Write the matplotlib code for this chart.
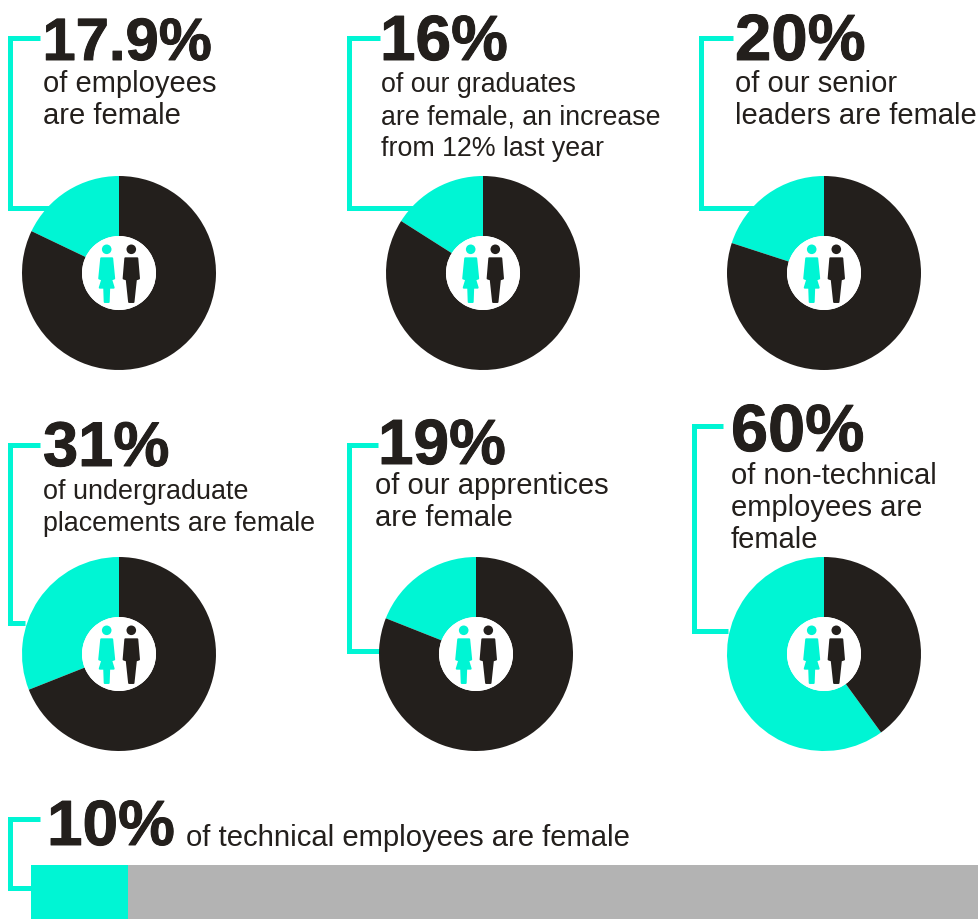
import matplotlib
matplotlib.use("Agg")
import matplotlib.pyplot as plt
import matplotlib.patheffects as pe
from matplotlib.patches import Circle, Polygon

# Share of women per group
headline_values = [17.9, 16, 20, 31, 19, 60]
headline_text = [
    ["of employees", "are female"],
    ["of our graduates", "are female, an increase", "from 12% last year"],
    ["of our senior", "leaders are female"],
    ["of undergraduate", "placements are female"],
    ["of our apprentices", "are female"],
    ["of non-technical", "employees are", "female"],
]
technical_value = 10
technical_text = "of technical employees are female"

TEAL = "#00f5d4"
DARK = "#231f1c"
GREY = "#b3b3b3"
W, H = 979, 919

# Layout, everything in pixels from the top left
centers = [(119, 273), (483, 273), (824, 273), (119, 654), (476, 654), (824, 654)]
num_pos = [(42.5, 60), (380, 60), (735, 60), (43, 466), (378, 464), (731, 451)]
num_size = [43, 46, 47, 45.5, 46, 48]
line_pos = [(43, 92), (381, 92), (735, 92), (43, 499), (375, 494), (731, 484)]
line_size = [21, 19.3, 21, 19.4, 21, 21]
brackets = [
    (40, 10, 38, 208, 50),
    (380, 349, 38, 208, 415),
    (733, 701, 38, 208, 755),
    (40, 10, 445, 623, 25),
    (378, 349, 445, 651, 382),
    (723, 694, 426, 631, 728),
]

fig = plt.figure(figsize=(W / 100, H / 100), dpi=100)
ax = fig.add_axes([0, 0, 1, 1])


def flip(y):
    return H - y


def big_number(x, y, label, size):
    t = ax.text(x, flip(y), label, family="Liberation Sans", weight="bold", fontsize=size,
                color=DARK, va="baseline", ha="left", zorder=6)
    t.set_path_effects([pe.withStroke(linewidth=0.7, foreground=DARK)])


def person(cx, cy, female):
    # Small figure icon, offsets from the middle of the doughnut
    col = TEAL if female else DARK
    sign = -1 if female else 1
    hx = cx + sign * 12.3
    ax.add_patch(Circle((hx, flip(cy - 23.7)), 4.8, color=col, zorder=5, lw=0))
    if female:
        shape = [(-5.5, -14.7), (5.5, -14.7), (7.5, 5.5), (4.5, 6.5), (7, 14.7), (2.5, 14.7),
                 (2, 29), (-2, 29), (-2.5, 14.7), (-7, 14.7), (-4.5, 6.5), (-7.5, 5.5)]
    else:
        shape = [(-6, -14.7), (6, -14.7), (7.7, 5.5), (4.6, 6.5), (2.2, 29), (-2.2, 29),
                 (-4.6, 6.5), (-7.7, 5.5)]
    ax.add_patch(Polygon([(hx + x, flip(cy + y)) for x, y in shape], closed=True,
                         facecolor=col, edgecolor=col, zorder=5, lw=1.4, joinstyle="round"))


for i, val in enumerate(headline_values):
    cx, cy = centers[i]
    x1, x0, y0, y1, x2 = brackets[i]
    ax.plot([x1, x0, x0, x2], [flip(y0), flip(y0), flip(y1), flip(y1)], color=TEAL,
            lw=3.6, solid_joinstyle="miter", solid_capstyle="butt", zorder=1)
    ax.pie([val, 100 - val], colors=[TEAL, DARK], startangle=90, counterclock=True,
           center=(cx, flip(cy)), radius=97,
           wedgeprops=dict(width=60, linewidth=0, zorder=3))
    ax.add_patch(Circle((cx, flip(cy)), 37, color="white", zorder=4, lw=0))
    person(cx, cy, True)
    person(cx, cy, False)

    nx, ny = num_pos[i]
    big_number(nx, ny, f"{val:g}%", num_size[i])
    lx, ly = line_pos[i]
    for j, line in enumerate(headline_text[i]):
        ax.text(lx, flip(ly + j * 32), line, family="Liberation Sans", fontsize=line_size[i],
                color=DARK, va="baseline", ha="left", zorder=7)

# Technical employees bar along the bottom
ax.plot([40, 10, 10, 31], [flip(819), flip(819), flip(888), flip(888)], color=TEAL,
        lw=3.6, solid_joinstyle="miter", solid_capstyle="butt", zorder=1)
bar_scale = 9.7
ax.barh(flip(892), technical_value * bar_scale, height=54, left=31, color=TEAL, lw=0, zorder=3)
ax.barh(flip(892), (100 - technical_value) * bar_scale, height=54,
        left=31 + technical_value * bar_scale, color=GREY, lw=0, zorder=3)
big_number(47, 845, f"{technical_value}%", 46)
ax.text(186, flip(846), technical_text, family="Liberation Sans", fontsize=21.1,
        color=DARK, va="baseline", ha="left", zorder=6)

ax.set_xlim(0, W)
ax.set_ylim(0, H)
ax.set_aspect("auto")
ax.axis("off")

fig.savefig("out.png", dpi=100)
